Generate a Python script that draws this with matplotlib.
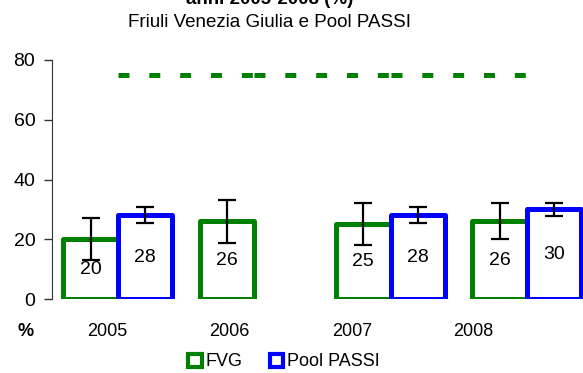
import matplotlib.pyplot as plt
from matplotlib.patches import Patch

plt.rcParams['font.family'] = ['Liberation Sans', 'DejaVu Sans']
plt.rcParams['lines.scale_dashes'] = False

# data
years = ['2005', '2006', '2007', '2008']
fvg = [20, 26, 25, 26]
fvg_err = [7, 7.2, 7, 6]
pool = [28, None, 28, 30]
pool_err = [2.7, None, 2.7, 2.2]
target = [75, 75, 75, 75]

green = '#008000'
blue = '#0000ff'
w = 0.40

fig = plt.figure(figsize=(5.83, 3.73), dpi=100)
ax = fig.add_axes([52 / 583, 74 / 373, 531 / 583, 239 / 373])

for i in range(len(years)):
    x_g = i - w / 2
    ax.bar(x_g, fvg[i], w, facecolor='white', edgecolor=green,
           linewidth=3.6, joinstyle='round', zorder=2)
    ax.errorbar(x_g, fvg[i], yerr=fvg_err[i], color='black', lw=1.6,
                capsize=6.5, capthick=1.6, zorder=4)
    ax.text(x_g, fvg[i] / 2, str(fvg[i]), ha='center', va='center',
            fontsize=14, zorder=5)
    if pool[i] is not None:
        x_b = i + w / 2
        ax.bar(x_b, pool[i], w, facecolor='white', edgecolor=blue,
               linewidth=3.6, joinstyle='round', zorder=3)
        ax.errorbar(x_b, pool[i], yerr=pool_err[i], color='black', lw=1.6,
                    capsize=6.5, capthick=1.6, zorder=4)
        ax.text(x_b, pool[i] / 2, str(pool[i]), ha='center', va='center',
                fontsize=14, zorder=5)

# target line, drawn as separate segments like the original
for i in range(len(target) - 1):
    ax.plot([i, i + 1], [target[i], target[i + 1]], color=green, lw=3.6,
            dashes=(7.9, 14.3), solid_capstyle='butt', dash_capstyle='butt',
            zorder=1)

ax.set_xlim(-0.484, 3.412)
ax.set_ylim(0, 80)
ax.set_yticks([0, 20, 40, 60, 80])
ax.tick_params(axis='y', labelsize=14, length=6, width=1, pad=6,
               color='#333333')
tick_pos = [-0.08, 0.82, 1.72, 2.61]
ax.set_xticks(tick_pos)
ax.set_xticklabels(years)
ax.tick_params(axis='x', labelsize=13, length=0, pad=17)
for s in ['top', 'right', 'bottom']:
    ax.spines[s].set_visible(False)
ax.spines['left'].set_color('#333333')

fig.text(26 / 583, 1 - 331 / 373, '%', fontsize=13, fontweight='bold',
         ha='center', va='center')
fig.text(270 / 583, 1 - 4 / 373, 'anni 2005-2008 (%)', fontsize=13.5,
         fontweight='bold', ha='center', va='baseline')
fig.text(270 / 583, 1 - 27 / 373, 'Friuli Venezia Giulia e Pool PASSI',
         fontsize=13.5, ha='center', va='baseline')

handles = [Patch(facecolor='white', edgecolor=green, linewidth=3),
           Patch(facecolor='white', edgecolor=blue, linewidth=3)]
fig.legend(handles, ['FVG', 'Pool PASSI'], loc='center',
           bbox_to_anchor=(284 / 583, 11 / 373), ncol=2, frameon=False,
           fontsize=13, handlelength=0.75, handleheight=0.75,
           handletextpad=0.2, columnspacing=1.5, borderpad=0)

fig.savefig('out.png', dpi=100)
